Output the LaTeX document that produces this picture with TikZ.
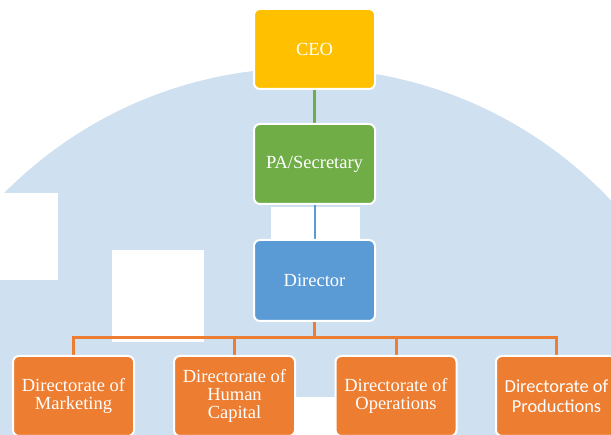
\documentclass[tikz,border=0pt]{standalone}
\usepackage{fontspec}
\setmainfont{Liberation Serif}
\newfontfamily\carlito{Carlito}
\usetikzlibrary{backgrounds}
\definecolor{wm}{RGB}{207,224,240}
\definecolor{ceoc}{RGB}{255,192,0}
\definecolor{pac}{RGB}{112,173,71}
\definecolor{dirc}{RGB}{91,155,213}
\definecolor{orc}{RGB}{237,125,49}
\begin{document}
\begin{tikzpicture}[x=1pt,y=-1pt,
  box/.style={draw=white, line width=2pt, rounded corners=6pt,
    minimum width=121pt, minimum height=80pt, inner sep=0pt,
    text=white, align=center, font=\fontsize{18.5}{18}\selectfont},
  link/.style={line width=#1}]
\useasboundingbox (0,0) rectangle (611,435);
\clip (0,0) rectangle (611,435);
\node[box, fill=ceoc] (ceo) at (314.5,49) {CEO};
\node[box, fill=pac] (pa) at (314.5,164) {PA/Secretary};
\node[box, fill=dirc, minimum height=81pt] (dir) at (314.5,280.5) {Director};
\node[box, fill=orc] (mk) at (73.5,396) {Directorate of\\Marketing};
\node[box, fill=orc] (hc) at (234.5,396) {Directorate of\\Human\\Capital};
\node[box, fill=orc] (op) at (396,396) {Directorate of\\Operations};
\node[box, fill=orc, font=\carlito\fontsize{18.4}{20}\selectfont] (pr) at (556.5,396) {Directorate of\\Productions};
\coordinate (bar) at (314.5,338);
\begin{pgfonlayer}{background}
\clip (0,0) rectangle (611,435);
\fill[wm] (304,490) circle[radius=422pt];
\fill[white] (0,193) rectangle (58,280);
\fill[white] (112,250) rectangle (204,342);
\fill[white] (271,207) rectangle (360,262);
\fill[white] (295,397) rectangle (440,440);
\draw[pac, link=3pt] (ceo) -- (pa);
\draw[dirc, link=2pt] (pa) -- (dir);
\draw[orc, link=3pt] (mk.north) -- (mk |- bar) -- (pr |- bar) -- (pr.north);
\draw[orc, link=3pt] (hc.north) -- (hc |- bar);
\draw[orc, link=3pt] (op.north) -- (op |- bar);
\draw[orc, link=3pt] (dir.south) -- (dir.south |- bar);
\end{pgfonlayer}
\end{tikzpicture}
\end{document}
